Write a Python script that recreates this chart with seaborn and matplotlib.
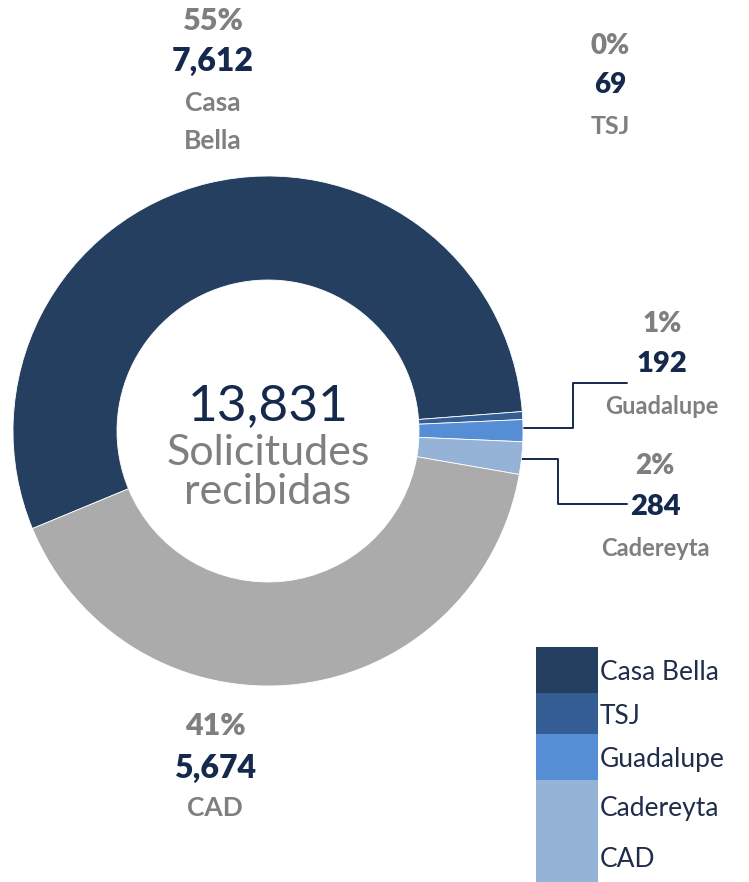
import matplotlib
matplotlib.use("Agg")
import matplotlib.pyplot as plt
from matplotlib.patches import Rectangle
import seaborn as sns

sns.set_theme(style="white")
plt.rcParams["font.family"] = ["Lato", "DejaVu Sans"]

# Solicitudes por sede
categories = ["Casa Bella", "TSJ", "Guadalupe", "Cadereyta", "CAD"]
values = [7612, 69, 192, 284, 5674]
pie_colors = ["#243F60", "#345E93", "#558ED5", "#95B3D7", "#ABABAB"]
legend_colors = ["#243F60", "#345E93", "#558ED5", "#95B3D7", "#95B3D7"]
label_names = ["Casa\nBella", "TSJ", "Guadalupe", "Cadereyta", "CAD"]

total = sum(values)
NAVY = "#14294B"
GREY = "#7F7F7F"

W, H = 749, 882
fig = plt.figure(figsize=(W / 100, H / 100), dpi=100)
ax = fig.add_axes([0, 0, 1, 1])
ax.set_xlim(0, W)
ax.set_ylim(H, 0)
ax.axis("off")

# donut drawn in its own axes so the y orientation stays standard
cx, cy, r_out, r_in = 268, 431, 255, 151
pax = fig.add_axes([0, 0, 1, 1])
pax.pie(values, colors=pie_colors, startangle=202.5, counterclock=False,
        center=(cx, H - cy), radius=r_out,
        wedgeprops=dict(width=r_out - r_in, edgecolor="white", linewidth=0.6))
pax.set_aspect("equal")
pax.set_xlim(0, W)
pax.set_ylim(0, H)
pax.axis("off")

# centre text
ax.text(cx, 406, f"{total:,}", ha="center", va="center", fontsize=37, color=NAVY)
ax.text(cx, 453, "Solicitudes", ha="center", va="center", fontsize=31, color=GREY)
ax.text(cx, 492, "recibidas", ha="center", va="center", fontsize=31, color=GREY)

# data labels: (x, y of percent, y of value, y of name, sizes)
label_pos = [
    (213, 21, 61, 122, 22, 23, 19),
    (610, 46, 85, 127, 20, 20, 18),
    (662, 324, 364, 406, 20, 21, 17),
    (655, 466, 507, 548, 20, 21, 17),
    (215, 726, 768, 808, 22, 23, 19),
]
for v, name, (x, yp, yv, yn, sp, sv, sn) in zip(values, label_names, label_pos):
    pct = f"{round(100 * v / total):d}%"
    ax.text(x, yp, pct, ha="center", va="center", fontsize=sp,
            color=GREY, fontweight="heavy")
    ax.text(x, yv, f"{v:,}", ha="center", va="center", fontsize=sv,
            color=NAVY, fontweight="heavy")
    ax.text(x, yn, name, ha="center", va="center", fontsize=sn,
            color=GREY, fontweight="bold", linespacing=1.7)

# leader lines
ax.plot([520, 573, 573, 627], [428, 428, 383, 383], color=NAVY, lw=1.4)
ax.plot([491, 558, 558, 627], [459, 459, 504, 504], color=NAVY, lw=1.4)

# legend as stacked swatches
box_x, box_w = 536, 62
edges = [647, 693, 734, 780, 831, 882]
for i, (name, col) in enumerate(zip(categories, legend_colors)):
    y0, y1 = edges[i], edges[i + 1]
    ax.add_patch(Rectangle((box_x, y0), box_w, y1 - y0, facecolor=col,
                           edgecolor="none"))
    ax.text(box_x + 64, (y0 + y1) / 2 + 3, name, ha="left", va="center",
            fontsize=19, color="#1F2D4A")

fig.savefig("out.png", dpi=100)
